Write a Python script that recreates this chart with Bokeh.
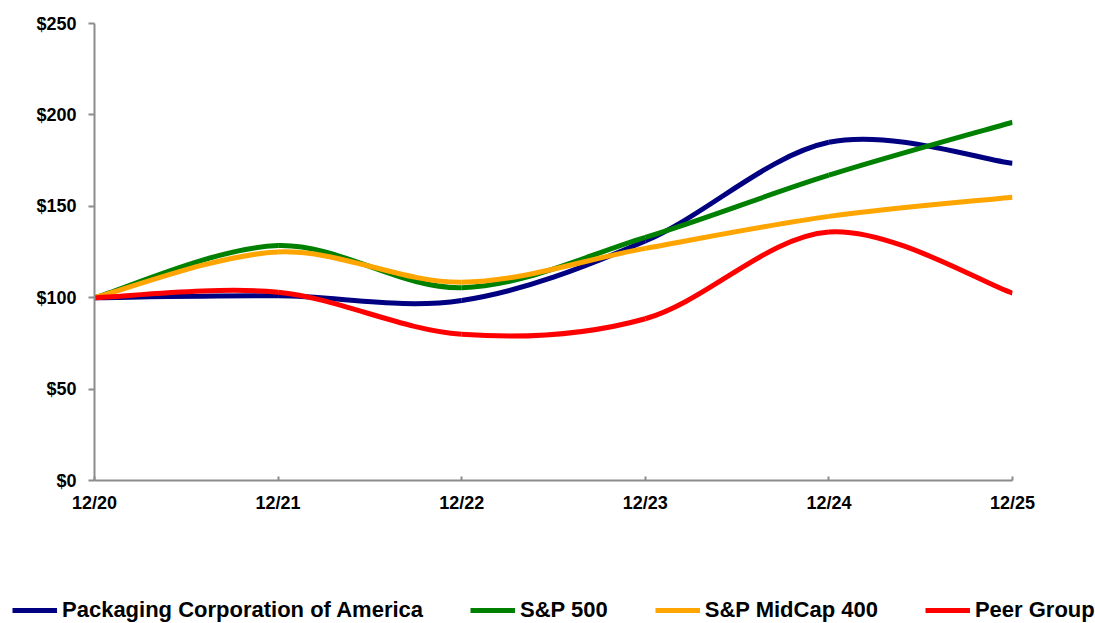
from bokeh.plotting import figure
from bokeh.models import Range1d, FixedTicker, Legend, LegendItem, ColumnDataSource, NumeralTickFormatter
from bokeh.layouts import column
from bokeh.embed import file_html
from bokeh.resources import INLINE

periods = ["12/20", "12/21", "12/22", "12/23", "12/24", "12/25"]
pca = [100, 101, 98.5, 131, 185, 173.5]
sp500 = [100, 128.5, 105.5, 133, 167, 196]
midcap = [100, 125, 108.5, 127, 144.5, 155]
peer = [100, 103, 80, 88.5, 136, 102.5]
y_ticks = [0, 50, 100, 150, 200, 250]

series = [
    ("Packaging Corporation of America", pca, "#000080"),
    ("S&P 500", sp500, "#008000"),
    ("S&P MidCap 400", midcap, "#FFA500"),
    ("Peer Group", peer, "#FF0000"),
]

FONT = "Liberation Sans"
NAN = float("nan")

p = figure(width=1095, height=595, output_backend="svg", toolbar_location=None,
           x_range=Range1d(0, len(periods) - 1), y_range=Range1d(0, 250),
           min_border_left=94, min_border_right=83, min_border_top=23, min_border_bottom=115)
p.outline_line_color = None
p.xgrid.visible = False
p.ygrid.visible = False
p.frame_align = False


def smooth_segments(ys, t=1.0 / 6.0):
    xs = list(range(len(ys)))
    n = len(ys)
    d = dict(x0=[], y0=[], x1=[], y1=[], cx0=[], cy0=[], cx1=[], cy1=[])
    for i in range(n - 1):
        im1 = max(i - 1, 0)
        ip2 = min(i + 2, n - 1)
        d["x0"].append(xs[i]); d["y0"].append(ys[i])
        d["x1"].append(xs[i + 1]); d["y1"].append(ys[i + 1])
        d["cx0"].append(xs[i] + (xs[i + 1] - xs[im1]) * t)
        d["cy0"].append(ys[i] + (ys[i + 1] - ys[im1]) * t)
        d["cx1"].append(xs[i + 1] - (xs[ip2] - xs[i]) * t)
        d["cy1"].append(ys[i + 1] - (ys[ip2] - ys[i]) * t)
    return ColumnDataSource(d)


# legend-only strip below the chart
lf = figure(width=1095, height=28, output_backend="svg", toolbar_location=None,
            x_range=Range1d(0, 1), y_range=Range1d(0, 1),
            x_axis_type=None, y_axis_type=None,
            min_border_left=0, min_border_right=0, min_border_top=0, min_border_bottom=0)
lf.outline_line_color = None
lf.xgrid.visible = False
lf.ygrid.visible = False
lf.frame_align = False

items = []
for name, ys, color in series:
    src = smooth_segments(ys)
    p.bezier(x0="x0", y0="y0", x1="x1", y1="y1", cx0="cx0", cy0="cy0", cx1="cx1", cy1="cy1",
             source=src, line_color=color, line_width=5)
    proxy = lf.line(x=[NAN], y=[NAN], line_color=color, line_width=5)
    items.append(LegendItem(label=name, renderers=[proxy]))

# axes
p.xaxis.ticker = FixedTicker(ticks=list(range(len(periods))))
p.xaxis.major_label_overrides = {i: lab for i, lab in enumerate(periods)}
p.xaxis.minor_tick_line_color = None
p.xaxis.major_tick_in = 4
p.xaxis.major_tick_out = 0
p.xaxis.axis_line_color = "#8c8c8c"
p.xaxis.major_tick_line_color = "#8c8c8c"
p.xaxis.axis_line_width = 2
p.xaxis.major_tick_line_width = 2
p.xaxis.major_label_standoff = 12

p.yaxis.ticker = FixedTicker(ticks=y_ticks)
p.yaxis.formatter = NumeralTickFormatter(format="$0")
p.yaxis.minor_tick_line_color = None
p.yaxis.major_tick_in = 0
p.yaxis.major_tick_out = 6
p.yaxis.axis_line_color = "#8c8c8c"
p.yaxis.major_tick_line_color = "#8c8c8c"
p.yaxis.axis_line_width = 2
p.yaxis.major_tick_line_width = 2
p.yaxis.major_label_standoff = 12

for ax in (p.xaxis, p.yaxis):
    ax.major_label_text_font = FONT
    ax.major_label_text_font_style = "bold"
    ax.major_label_text_font_size = "18px"
    ax.major_label_text_color = "black"

legend = Legend(items=items, orientation="horizontal", location=(12, 0))
legend.label_text_font = FONT
legend.label_text_font_style = "bold"
legend.label_text_font_size = "22px"
legend.label_text_color = "black"
legend.glyph_width = 45
legend.label_standoff = 5
legend.spacing = 47
legend.padding = 0
legend.margin = 0
legend.border_line_color = None
legend.background_fill_alpha = 0
lf.add_layout(legend, "center")

open("out.html", "w").write(file_html(column(p, lf), INLINE))
